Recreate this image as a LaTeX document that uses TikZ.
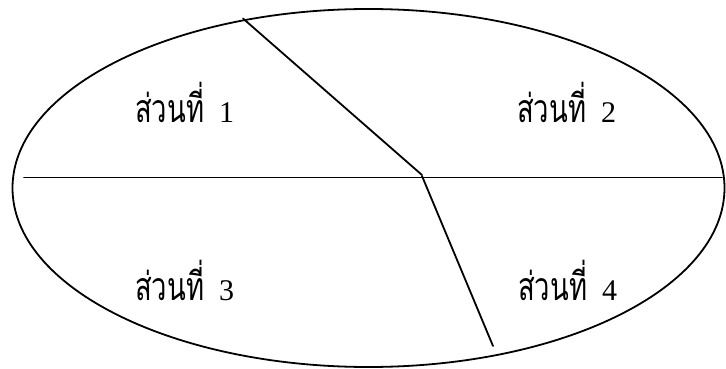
\documentclass[tikz,border=0pt]{standalone}
\usepackage{fontspec}
\usetikzlibrary{shapes.geometric}
\newfontfamily\thaifont[Script=Thai]{Loma}
\newfontfamily\digitfont{Liberation Serif}
\newcommand{\partlabel}[1]{\scalebox{0.98}[1.4]{\thaifont\fontsize{28}{30}\selectfont ส่วนที่}\hspace{15pt}{\digitfont\fontsize{30}{32}\selectfont #1}}
\begin{document}
\begin{tikzpicture}[x=1pt,y=-1pt,
  lbl/.style={anchor=base west, inner sep=0pt},
  edge/.style={line width=1.8pt, line cap=round}]
\useasboundingbox (0,0) rectangle (726,369);
\node[draw, ellipse, line width=1.8pt, minimum width=712pt, minimum height=358pt, inner sep=0pt] (oval) at (368.5,188) {};
\coordinate (hl) at (24,177.5);
\coordinate (hr) at (722,177.5);
\coordinate (top) at (243,18.5);
\coordinate (mid) at (422,175);
\coordinate (mid2) at (422,176);
\coordinate (bot) at (493,346);
\draw[edge] (hl) -- (hr);
\draw[edge] (top) -- (mid);
\draw[edge] (mid2) -- (bot);
\node[lbl] (s1) at (135,122) {\partlabel{1}};
\node[lbl] (s2) at (517,122) {\partlabel{2}};
\node[lbl] (s3) at (135,300) {\partlabel{3}};
\node[lbl] (s4) at (518,300) {\partlabel{4}};
\end{tikzpicture}
\end{document}
